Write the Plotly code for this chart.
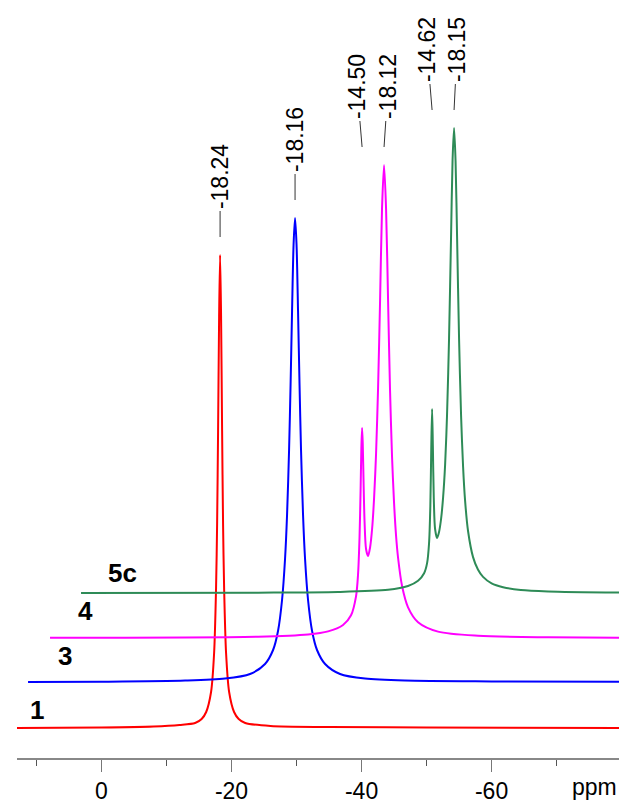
import plotly.graph_objects as go

# stacked 31P-like spectra, x in ppm as drawn on the shared axis, y in arbitrary units above each baseline
ppm_1 = [13.0, 0.0, -8.0, -12.0, -14.4, -15.4, -16.1, -16.85, -17.32, -17.62, -17.78, -17.93, -18.09,
         -18.24, -18.39, -18.55, -18.70, -18.86, -19.16, -19.63, -20.39, -21.1, -22.1, -26.0, -35.0, -50.0, -79.6]
int_1 = [0, 0.5, 1.5, 3, 5, 9, 16, 36, 75, 140, 203, 297, 412,
         473, 412, 297, 203, 140, 75, 36, 16, 9, 5, 2, 1, 0.5, 0]

ppm_3 = [11.3, 0.0, -12.87, -19.0, -22.85, -25.15, -26.39, -27.15, -27.77, -28.23, -28.54, -28.85,
         -29.08, -29.31, -29.54, -29.77, -30.0, -30.23, -30.46, -30.69, -31.0, -31.31, -31.77,
         -32.39, -33.15, -34.39, -36.69, -40.54, -46.67, -60.0, -79.6]
int_3 = [0, 0.3, 1.4, 3.4, 8, 18, 32, 51, 82, 123, 167, 232,
         297, 371, 437, 464, 437, 371, 297, 232, 167, 123, 82,
         51, 32, 18, 8, 3.4, 1.4, 0.6, 0.3]

ppm_4 = [7.92, -24.08, -31.77, -34.85, -37.15, -38.38, -39.15, -39.46, -39.69, -39.85, -39.97, -40.08,
         -40.18, -40.31, -40.46, -40.69, -41.0, -41.31, -41.62, -41.92, -42.23, -42.54, -42.85, -43.15,
         -43.46, -43.77, -44.08, -44.38, -44.69, -45.0, -45.31, -45.62, -46.23, -47.15, -48.69, -51.77,
         -57.92, -68.69, -79.6]
int_4 = [0.2, 1.3, 3.5, 6.6, 13, 22.7, 41.7, 63.7, 101, 147, 190, 210,
         195, 156, 116.5, 89, 82, 90.5, 109, 139, 184, 250, 338, 430,
         473, 429, 337, 248, 181, 135, 102, 80, 52, 30.7, 15.8, 6.4,
         2.2, 0.7, 0.3]

ppm_5c = [3.15, -24.08, -36.38, -44.08, -47.15, -48.69, -49.62, -50.08, -50.38, -50.58, -50.72, -50.85,
          -50.97, -51.11, -51.31, -51.62, -51.92, -52.23, -52.54, -52.85, -53.15, -53.46, -53.77, -54.0,
          -54.23, -54.46, -54.69, -55.0, -55.31, -55.62, -55.92, -56.38, -57.15, -57.9, -58.69, -60.0,
          -61.77, -64.5, -68.69, -79.6]
int_5c = [0.1, 0.37, 1.04, 3.2, 7.0, 12.2, 19.8, 29.9, 49.5, 87, 144, 184,
          147, 95, 64, 55, 61, 74, 95.4, 128, 178.5, 255, 358, 433,
          465, 432, 357, 254, 177, 126, 92.8, 62, 35.9, 23.5, 16.1, 9.6,
          5.8, 3.0, 1.6, 0.5]

names = ["1", "3", "4", "5c"]
baselines = [30, 76, 120, 165]
peak_labels = [["-18.24"], ["-18.16"], ["-14.50", "-18.12"], ["-14.62", "-18.15"]]
peak_ppm = [[-18.24], [-29.77], [-40.08, -43.46], [-50.85, -54.23]]
tick_vals = [0, -20, -40, -60]
tick_text = ["0", "-20", "-40", "-60"]
minor_vals = [10, -10, -30, -50, -70]

xs = [ppm_1, ppm_3, ppm_4, ppm_5c]
ys = [int_1, int_3, int_4, int_5c]
colors = ["#ff0000", "#0000ff", "#ff00ff", "#2e8b57"]
name_pos = [(9.9, 48), (5.6, 102), (2.4, 147), (-3.3, 185)]
label_dx = [[0], [0], [-5, 4], [-5, 3]]

FONT = "Liberation Sans, Arial, sans-serif"

fig = go.Figure()
for x, y, base, c, n in zip(xs, ys, baselines, colors, names):
    fig.add_trace(go.Scatter(x=x, y=[v + base for v in y], mode="lines",
                             line=dict(color=c, width=2, shape="spline", smoothing=0.8),
                             name=n, showlegend=False))

for i, (texts, ppms) in enumerate(zip(peak_labels, peak_ppm)):
    top = baselines[i] + max(ys[i])
    for t, p, dx in zip(texts, ppms, label_dx[i]):
        fig.add_annotation(x=p, y=top + 18, text=t, textangle=-90,
                           showarrow=True, arrowhead=0, arrowwidth=1, arrowcolor="#333",
                           ax=dx, ay=-60, font=dict(family=FONT, size=23, color="black"))

for n, (px, py) in zip(names, name_pos):
    fig.add_annotation(x=px, y=py, text="<b>%s</b>" % n, showarrow=False,
                       font=dict(family=FONT, size=26, color="black"))

fig.add_annotation(xref="paper", yref="paper", x=1, y=0, xanchor="right", yanchor="top",
                   yshift=-14, text="ppm", showarrow=False,
                   font=dict(family=FONT, size=23, color="black"))

fig.update_layout(
    width=629, height=804,
    margin=dict(l=9, r=18, t=0, b=54),
    paper_bgcolor="white", plot_bgcolor="white",
    xaxis=dict(range=[13.0, -79.6], showgrid=False, zeroline=False,
               showline=True, linecolor="#888", linewidth=1.5,
               ticks="outside", ticklen=12, tickwidth=1, tickcolor="#777",
               tickvals=tick_vals, ticktext=tick_text,
               tickfont=dict(family=FONT, size=23, color="black"),
               minor=dict(tickvals=minor_vals, ticks="outside", ticklen=6, tickcolor="#555")),
    yaxis=dict(range=[0, 750], visible=False),
)

fig.write_html("out.html")
